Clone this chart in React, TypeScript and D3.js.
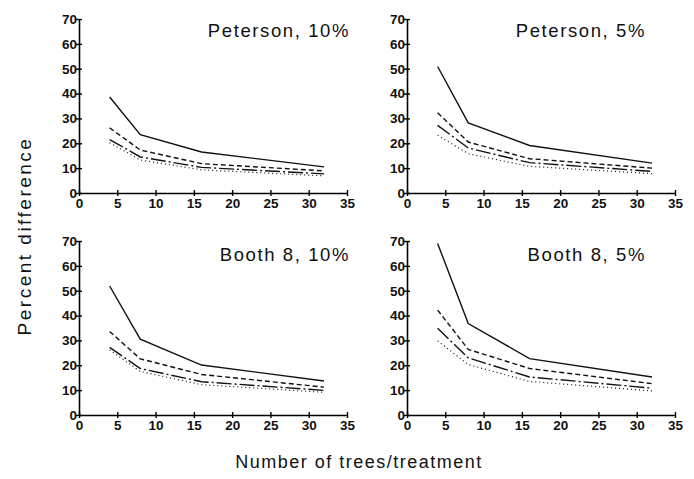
import React, { useEffect, useRef } from "react";
import * as d3 from "d3";

// x positions (trees per treatment)
const trees = [4, 8, 16, 32];

// each panel: [solid, dashed, dash-dot, dotted]
const peterson10 = [
  [38.6, 23.5, 16.5, 10.5],
  [26.2, 17.3, 11.8, 8.9],
  [21.5, 14.5, 10.3, 7.7],
  [20.2, 13.3, 9.3, 6.9],
];
const peterson5 = [
  [50.9, 28.2, 19.1, 12.0],
  [32.3, 20.5, 13.8, 10.0],
  [27.2, 18.1, 12.2, 8.7],
  [23.2, 15.8, 10.7, 7.8],
];
const booth10 = [
  [51.9, 30.5, 20.1, 13.7],
  [33.6, 22.6, 16.3, 11.2],
  [27.2, 18.7, 13.4, 9.9],
  [26.2, 17.5, 12.2, 9.1],
];
const booth5 = [
  [69.0, 36.8, 22.7, 15.3],
  [42.2, 26.4, 18.7, 12.6],
  [34.9, 23.0, 15.3, 10.8],
  [29.8, 20.3, 13.5, 9.7],
];

const panelTitles = ["Peterson, 10%", "Peterson, 5%", "Booth 8, 10%", "Booth 8, 5%"];
const panelData = [peterson10, peterson5, booth10, booth5];
const xTicks = [0, 5, 10, 15, 20, 25, 30, 35];
const yTicks = [0, 10, 20, 30, 40, 50, 60, 70];
const dashes = [null, "5,3", "15,3,2,3", "1,3"];

const W = 694;
const H = 479;
const panelLeft = [79, 407];
const panelBottom = [193, 415];
const plotW = 268;
const plotH = 174;
const titleRight = [350, 646];
const titleY = [37, 261];
const font = "Liberation Sans, Arial, sans-serif";

const App = () => {
  const svgRef = useRef<SVGSVGElement>(null);

  useEffect(() => {
    const svg = d3.select(svgRef.current);
    svg.selectAll("*").remove();

    const x = d3.scaleLinear().domain([0, 35]).range([0, plotW]);
    const y = d3.scaleLinear().domain([0, 70]).range([plotH, 0]);

    const line = d3
      .line<number>()
      .x((d, i) => x(trees[i]))
      .y((d) => y(d));

    panelData.forEach((series, p) => {
      const col = p % 2;
      const row = Math.floor(p / 2);
      const g = svg
        .append("g")
        .attr("transform", `translate(${panelLeft[col]},${panelBottom[row] - plotH})`);

      // x axis
      const xa = g
        .append("g")
        .attr("transform", `translate(0,${plotH})`)
        .call(d3.axisBottom(x).tickValues(xTicks).tickSize(3).tickPadding(2).tickSizeOuter(0));
      xa.selectAll(".tick line").attr("y1", -3).attr("y2", 3);

      // y axis
      const ya = g
        .append("g")
        .call(d3.axisLeft(y).tickValues(yTicks).tickSize(3).tickPadding(-1).tickSizeOuter(0));
      ya.selectAll(".tick line").attr("x1", 3).attr("x2", -3);

      [xa, ya].forEach((a) => {
        a.select(".domain").attr("stroke-width", 1.6);
        a.selectAll(".tick line").attr("stroke-width", 1.4);
        a.selectAll(".tick text")
          .attr("font-family", font)
          .attr("font-size", 13.5)
          .attr("font-weight", "bold")
          .attr("fill", "#111");
      });

      series.forEach((vals, i) => {
        g.append("path")
          .datum(vals)
          .attr("d", line)
          .attr("fill", "none")
          .attr("stroke", "#111")
          .attr("stroke-width", i === 3 ? 1.2 : 1.4)
          .attr("stroke-dasharray", dashes[i]);
      });

      svg
        .append("text")
        .attr("x", titleRight[col])
        .attr("y", titleY[row])
        .attr("text-anchor", "end")
        .attr("font-family", font)
        .attr("font-size", 18.5)
        .attr("letter-spacing", 1.6)
        .attr("fill", "#111")
        .text(panelTitles[p]);
    });

    svg
      .append("text")
      .attr("transform", `translate(31,236) rotate(-90)`)
      .attr("text-anchor", "middle")
      .attr("font-family", font)
      .attr("font-size", 19)
      .attr("letter-spacing", 2.5)
      .attr("fill", "#111")
      .text("Percent difference");

    svg
      .append("text")
      .attr("x", 359)
      .attr("y", 468)
      .attr("text-anchor", "middle")
      .attr("font-family", font)
      .attr("font-size", 18)
      .attr("letter-spacing", 1.5)
      .attr("fill", "#111")
      .text("Number of trees/treatment");
  }, []);

  return (
    <svg
      ref={svgRef}
      width={W}
      height={H}
      style={{ position: "absolute", left: 0, top: 0, background: "#fff" }}
    />
  );
};

export default App;
